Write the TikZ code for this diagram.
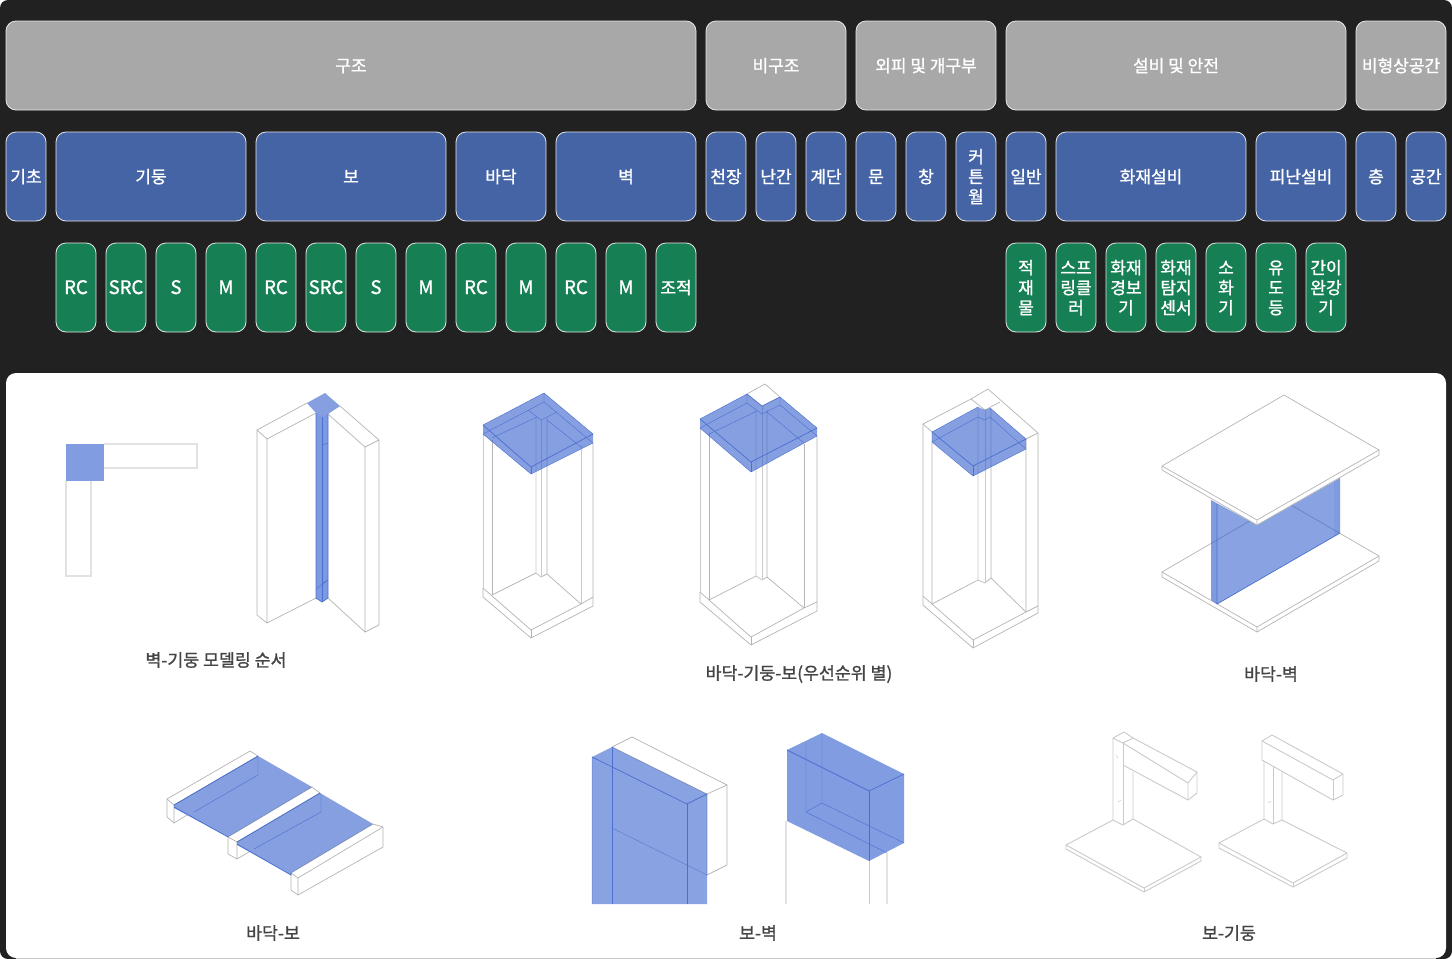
\documentclass[tikz,border=0pt]{standalone}
\usepackage{fontspec}
\setmainfont{Noto Sans CJK KR}[FakeBold=1.2]
\definecolor{bgdark}{HTML}{212121}
\definecolor{cellgray}{HTML}{A8A8A8}
\definecolor{cellblue}{HTML}{4564A6}
\definecolor{cellgreen}{HTML}{167F54}
\definecolor{cellline}{HTML}{E6E6E6}
\definecolor{wire}{HTML}{B4B4B4}
\definecolor{wiresoft}{HTML}{CACACA}
\definecolor{wirelight}{HTML}{E2E2E2}
\definecolor{bluefill}{HTML}{2E5BCC}
\definecolor{blueline}{HTML}{4A6FD0}
\definecolor{captioncol}{HTML}{444444}
\tikzset{
 cellbase/.style={draw=cellline,line width=0.8pt,rounded corners=10pt,inner sep=0pt,outer sep=0pt,text=white,align=center,font=\fontsize{17}{20}\selectfont},
 graycell/.style={cellbase,fill=cellgray},
 bluecell/.style={cellbase,fill=cellblue},
 greencell/.style={cellbase,fill=cellgreen},
 caption/.style={inner sep=0pt,text=captioncol,font=\fontsize{17.3}{20}\selectfont},
 wireline/.style={draw=wire,line width=0.7pt,line join=round},
 wiresoftline/.style={draw=wiresoft,line width=0.9pt,line join=round},
 wirepale/.style={draw=wirelight,line width=1.2pt},
 whiteface/.style={fill=white,draw=wire,line width=0.7pt,line join=round},
 bluepoly/.style={fill=bluefill,fill opacity=0.58,draw=none},
 blueedge/.style={draw=blueline,line width=0.7pt,line join=round},
 bluefine/.style={draw=blueline,line width=0.4pt,line join=round},
}
\newcommand{\lat}[1]{{\fontsize{18.6}{20}\selectfont #1}}
\newcommand{\cellbox}[7]{%
 \pgfmathsetmacro{\cellw}{#4-#3}\pgfmathsetmacro{\cellh}{#6-#5}%
 \pgfmathsetmacro{\cellx}{(#3+#4)/2}\pgfmathsetmacro{\celly}{(#5+#6)/2}%
 \node[#2,minimum width=\cellw pt,minimum height=\cellh pt] (#1) at (\cellx,\celly) {\vbox{\kern5pt\hbox{\begin{tabular}{@{}c@{}}#7\end{tabular}}}};}
\begin{document}
\begin{tikzpicture}[x=1pt,y=-1pt]
\useasboundingbox (0,0) rectangle (1452,959);
\fill[white] (0,0) rectangle (1452,959);
\fill[bgdark,rounded corners=8pt] (0,0) rectangle (1452,959);
\fill[white,rounded corners=10pt] (6,373) rectangle (1446,958);
\fill[wiresoft] (16,958) rectangle (1436,959);

% row 1
\cellbox{a1}{graycell}{6}{696}{21}{110}{구조}
\cellbox{a2}{graycell}{706}{846}{21}{110}{비구조}
\cellbox{a3}{graycell}{856}{996}{21}{110}{외피 및 개구부}
\cellbox{a4}{graycell}{1006}{1346}{21}{110}{설비 및 안전}
\cellbox{a5}{graycell}{1356}{1446}{21}{110}{비형상공간}
% row 2
\cellbox{b1}{bluecell}{6}{46}{132}{221}{기초}
\cellbox{b2}{bluecell}{56}{246}{132}{221}{기둥}
\cellbox{b3}{bluecell}{256}{446}{132}{221}{보}
\cellbox{b4}{bluecell}{456}{546}{132}{221}{바닥}
\cellbox{b5}{bluecell}{556}{696}{132}{221}{벽}
\cellbox{b6}{bluecell}{706}{746}{132}{221}{천장}
\cellbox{b7}{bluecell}{756}{796}{132}{221}{난간}
\cellbox{b8}{bluecell}{806}{846}{132}{221}{계단}
\cellbox{b9}{bluecell}{856}{896}{132}{221}{문}
\cellbox{b10}{bluecell}{906}{946}{132}{221}{창}
\cellbox{b11}{bluecell}{956}{996}{132}{221}{커\\튼\\월}
\cellbox{b12}{bluecell}{1006}{1046}{132}{221}{일반}
\cellbox{b13}{bluecell}{1056}{1246}{132}{221}{화재설비}
\cellbox{b14}{bluecell}{1256}{1346}{132}{221}{피난설비}
\cellbox{b15}{bluecell}{1356}{1396}{132}{221}{층}
\cellbox{b16}{bluecell}{1406}{1446}{132}{221}{공간}
% row 3
\cellbox{c1}{greencell}{56}{96}{243}{332}{\lat{RC}}
\cellbox{c2}{greencell}{106}{146}{243}{332}{\lat{SRC}}
\cellbox{c3}{greencell}{156}{196}{243}{332}{\lat{S}}
\cellbox{c4}{greencell}{206}{246}{243}{332}{\lat{M}}
\cellbox{c5}{greencell}{256}{296}{243}{332}{\lat{RC}}
\cellbox{c6}{greencell}{306}{346}{243}{332}{\lat{SRC}}
\cellbox{c7}{greencell}{356}{396}{243}{332}{\lat{S}}
\cellbox{c8}{greencell}{406}{446}{243}{332}{\lat{M}}
\cellbox{c9}{greencell}{456}{496}{243}{332}{\lat{RC}}
\cellbox{c10}{greencell}{506}{546}{243}{332}{\lat{M}}
\cellbox{c11}{greencell}{556}{596}{243}{332}{\lat{RC}}
\cellbox{c12}{greencell}{606}{646}{243}{332}{\lat{M}}
\cellbox{c13}{greencell}{656}{696}{243}{332}{조적}
\cellbox{c14}{greencell}{1006}{1046}{243}{332}{적\\재\\물}
\cellbox{c15}{greencell}{1056}{1096}{243}{332}{스프\\링클\\러}
\cellbox{c16}{greencell}{1106}{1146}{243}{332}{화재\\경보\\기}
\cellbox{c17}{greencell}{1156}{1196}{243}{332}{화재\\탐지\\센서}
\cellbox{c18}{greencell}{1206}{1246}{243}{332}{소\\화\\기}
\cellbox{c19}{greencell}{1256}{1296}{243}{332}{유\\도\\등}
\cellbox{c20}{greencell}{1306}{1346}{243}{332}{간이\\완강\\기}

% captions
\node[caption] (t1) at (216,660) {벽-기둥 모델링 순서};
\node[caption] (t2) at (799,674) {바닥-기둥-보(우선순위 별)};
\node[caption] (t3) at (1271,674) {바닥-벽};
\node[caption] (t4) at (273,933) {바닥-보};
\node[caption] (t5) at (758,933) {보-벽};
\node[caption] (t6) at (1229,933) {보-기둥};

% plan view
\draw[wirepale] (104,444) -- (197,444) -- (197,468) -- (104,468);
\draw[wirepale] (66,481) -- (66,576) -- (91,576) -- (91,481);
\fill[bluefill,fill opacity=0.6] (66,444) rectangle (104,481);

% wall-column isometric
\draw[wireline] (307,403) -- (257,430) -- (257,615) -- (267,623) -- (267,439) -- (257,430);
\draw[wireline] (267,439) -- (316,413);
\draw[wireline] (267,623) -- (316,598);
\draw[wireline] (340,406) -- (379,440) -- (379,625) -- (365,632) -- (365,447) -- (379,440);
\draw[wireline] (365,447) -- (328,414);
\draw[wireline] (365,632) -- (328,598);
\fill[bluepoly] (307,403) -- (325,393) -- (340,406) -- (328,414) -- (322,417) -- (316,413) -- cycle;
\fill[bluepoly,fill opacity=.62] (316,413) -- (322,417) -- (328,414) -- (328,598) -- (322,602) -- (316,598) -- cycle;
\draw[blueedge] (316,413) -- (316,598) -- (322,602) -- (328,598) -- (328,414);
\draw[blueedge] (322,417) -- (322,602);
\draw[bluefine] (322,445) -- (328,443) (322,583) -- (328,580) -- (316,589);

% frame A
\draw[wiresoftline] (483,434) -- (483,588);
\draw[wireline] (483,588) -- (483,597) -- (531,638) -- (593,606) -- (593,443);
\draw[wireline] (492,440) -- (492,595);
\draw[wiresoftline] (581,446) -- (581,604);
\draw[wireline] (483,588) -- (531,630) -- (581,604) -- (593,597);
\draw[wireline] (492,595) -- (536,573);
\draw[wireline] (531,630) -- (531,638);
\draw[wireline] (547,574) -- (581,604);
\draw[wiresoftline] (536,418) -- (536,573) -- (541,577);
\draw[wireline] (541,577) -- (547,574) -- (547,418);
\draw[wiresoftline] (541,420) -- (541,577);
\fill[bluepoly] (483,425) -- (544,393) -- (593,434) -- (593,443) -- (531,474) -- (483,434) -- cycle;
\draw[blueedge] (483,425) -- (531,467) -- (593,434);
\draw[blueedge] (531,467) -- (531,474);
\draw[bluefine] (483,434) -- (531,474) -- (593,443) (483,425) -- (544,393) -- (593,434) (483,434) -- (544,402) -- (593,443) (544,393) -- (544,402) (492,438) -- (537,417) (528,410) -- (541,420) -- (557,412) (547,420) -- (581,447);

% frame B
\draw[wiresoftline] (700,428) -- (700,592);
\draw[wireline] (700,592) -- (700,602) -- (751,645) -- (817,611) -- (817,436);
\draw[wireline] (709,433) -- (709,600);
\draw[wireline] (804,444) -- (804,608);
\draw[wireline] (700,592) -- (709,600) -- (751,637) -- (804,608) -- (817,602);
\draw[wireline] (709,600) -- (756,576);
\draw[wireline] (751,637) -- (751,645);
\draw[wireline] (767,577) -- (804,608);
\draw[wiresoftline] (756,410) -- (756,576) -- (762,580);
\draw[wireline] (762,580) -- (767,577) -- (767,410);
\draw[wiresoftline] (762,406) -- (762,580);
\draw[whiteface] (747,394) -- (765,384) -- (780,397) -- (762,406) -- cycle;
\fill[bluepoly] (700,419) -- (747,394) -- (762,406) -- (780,397) -- (817,428) -- (817,436) -- (751,472) -- (700,428) -- cycle;
\draw[blueedge] (700,419) -- (751,462) -- (817,428);
\draw[blueedge] (751,462) -- (751,472);
\draw[bluefine] (700,428) -- (751,472) -- (817,436) (700,419) -- (747,394) -- (762,406) -- (780,397) -- (817,428) (700,428) -- (747,403) -- (762,414) -- (780,405) -- (817,436) (747,394) -- (747,403) (780,397) -- (780,405) (709,434) -- (757,411) (767,412) -- (804,443);

% frame C
\draw[wireline] (923,424) -- (971,399) -- (988,389) -- (1038,433) -- (1038,613) -- (973,648) -- (923,605) -- cycle;
\draw[wireline] (923,424) -- (932,432) -- (932,604);
\draw[wireline] (1038,433) -- (1026,439) -- (1026,612);
\draw[wireline] (923,596) -- (932,604) -- (973,640) -- (1026,612) -- (1038,606);
\draw[wireline] (973,640) -- (973,648);
\draw[wireline] (971,399) -- (985,410) -- (1000,402);
\draw[wireline] (932,604) -- (978,580);
\draw[wireline] (991,578) -- (1026,612);
\draw[wiresoftline] (978,407) -- (978,580) -- (985,583);
\draw[wireline] (985,583) -- (991,578) -- (991,408);
\draw[wiresoftline] (985,410) -- (985,583);
\fill[bluepoly] (932,432) -- (978,407) -- (985,410) -- (990,408) -- (1026,439) -- (1026,449) -- (973,476) -- (932,442) -- cycle;
\draw[blueedge] (932,432) -- (973,466) -- (1026,439);
\draw[blueedge] (973,466) -- (973,476);
\draw[bluefine] (932,432) -- (978,407) (990,408) -- (1026,439) (932,442) -- (973,476) -- (1026,449) (932,442) -- (978,417) -- (985,420) -- (990,417) -- (1026,449);

% wall between slabs
\draw[whiteface] (1162,572) -- (1162,577) -- (1257,632) -- (1379,561) -- (1379,556) -- (1284,501) -- cycle;
\draw[wireline] (1162,572) -- (1257,627) -- (1379,556) (1257,627) -- (1257,632);
\fill[bluepoly,fill opacity=.56] (1211,500) -- (1257,525) -- (1340,478) -- (1340,533) -- (1217,604) -- (1211,600) -- cycle;
\fill[bluefill,fill opacity=.1] (1211,500) -- (1217,504) -- (1217,604) -- (1211,600) -- cycle;
\fill[bluefill,fill opacity=.1] (1334,481) -- (1340,478) -- (1340,533) -- (1334,537) -- cycle;
\draw[blueedge] (1217,504) -- (1217,604) -- (1340,533);
\draw[whiteface] (1162,466) -- (1284,395) -- (1379,450) -- (1379,455) -- (1257,525) -- (1162,470) -- cycle;
\draw[wireline] (1162,466) -- (1257,520) -- (1379,450) (1257,520) -- (1257,525);

% floor-beam
\draw[whiteface] (167,799) -- (250,751) -- (258,756) -- (174,805) -- (174,823) -- (167,817) -- cycle;
\draw[wireline] (167,799) -- (174,805);
\draw[wireline] (174,823) -- (187,815);
\draw[whiteface] (228,837) -- (312,787) -- (320,793) -- (237,842) -- (237,859) -- (228,854) -- cycle;
\draw[wireline] (228,837) -- (237,842);
\draw[wireline] (237,859) -- (249,852);
\draw[whiteface] (291,873) -- (373,824) -- (383,827) -- (383,847) -- (298,895) -- (291,890) -- cycle;
\draw[wireline] (291,873) -- (298,878) -- (383,827) (298,878) -- (298,895);
\fill[bluepoly] (174,805) -- (258,756) -- (312,787) -- (228,837) -- (174,808) -- cycle;
\fill[bluepoly] (237,842) -- (320,793) -- (373,824) -- (291,873) -- (291,875) -- (237,845) -- cycle;
\draw[blueedge] (174,805) -- (258,756) (174,807) -- (228,837) (237,842) -- (320,793) (237,844) -- (291,875) -- (291,873);
\draw[bluefine] (194,812) -- (258,775) -- (258,756) (254,849) -- (321,812) -- (321,793);

% beam-wall left
\draw[whiteface] (612,747) -- (632,737) -- (727,785) -- (727,865) -- (707,875) -- (707,794) -- cycle;
\draw[wireline] (707,794) -- (727,785);
\fill[bluepoly,fill opacity=.56] (592,757) -- (612,747) -- (707,794) -- (707,904) -- (592,904) -- cycle;
\draw[blueedge] (592,757) -- (687,804) -- (707,794);
\draw[blueedge] (612,747) -- (612,904);
\draw[blueedge] (687,804) -- (687,904);
\draw[blueedge,draw opacity=.7,line width=.5pt] (592,757) -- (592,904) (612,828) -- (707,875);

% beam-wall right
\draw[wirepale] (786,821) -- (786,904);
\draw[wiresoftline] (869,861) -- (869,904);
\draw[wirepale] (887,853) -- (887,904);
\fill[bluepoly,fill opacity=.6] (787,750) -- (822,733) -- (904,774) -- (904,843) -- (869,861) -- (787,821) -- cycle;
\draw[blueedge] (787,750) -- (869,791) -- (904,774);
\draw[blueedge] (869,791) -- (869,861);
\draw[bluefine] (822,733) -- (822,803) -- (904,843) (806,742) -- (806,812) -- (822,803) (806,812) -- (887,853);

% beam-column left
\draw[wiresoftline] (1066,845) -- (1113,820);
\draw[wiresoftline] (1133,819) -- (1201,857);
\draw[wiresoftline] (1066,845) -- (1066,849) -- (1144,892) -- (1201,861) -- (1201,857) -- (1144,888) -- cycle;
\draw[wiresoftline] (1144,888) -- (1144,892);
\draw[wiresoftline] (1113,738) -- (1124,732) -- (1133,738) -- (1123,743) -- cycle;
\draw[wiresoftline] (1113,738) -- (1113,820) -- (1123,825) -- (1133,819) -- (1133,772);
\draw[wiresoftline] (1123,743) -- (1123,825);
\draw[wiresoftline] (1133,738) -- (1197,772) -- (1197,793) -- (1188,800) -- (1123,765);
\draw[wiresoftline] (1123,743) -- (1188,783) -- (1197,772) (1188,783) -- (1188,800);
\draw[wiresoftline,line width=.5pt] (1116,755) -- (1118,758) (1118,802) -- (1121,800);

% beam-column right
\draw[wiresoftline] (1219,843) -- (1264,819);
\draw[wiresoftline] (1282,820) -- (1347,853);
\draw[wiresoftline] (1219,843) -- (1219,848) -- (1293,887) -- (1347,858) -- (1347,853) -- (1293,883) -- cycle;
\draw[wiresoftline] (1293,883) -- (1293,887);
\draw[wiresoftline] (1264,761) -- (1264,819) -- (1273,824) -- (1282,820) -- (1282,772);
\draw[wiresoftline] (1273,766) -- (1273,824);
\draw[wiresoftline] (1262,741) -- (1272,735) -- (1343,774) -- (1333,780) -- cycle;
\draw[wiresoftline] (1262,741) -- (1262,760) -- (1333,800) -- (1343,795) -- (1343,774);
\draw[wiresoftline] (1333,780) -- (1333,800);
\draw[wiresoftline,line width=.5pt] (1268,803) -- (1271,801);
\end{tikzpicture}
\end{document}
